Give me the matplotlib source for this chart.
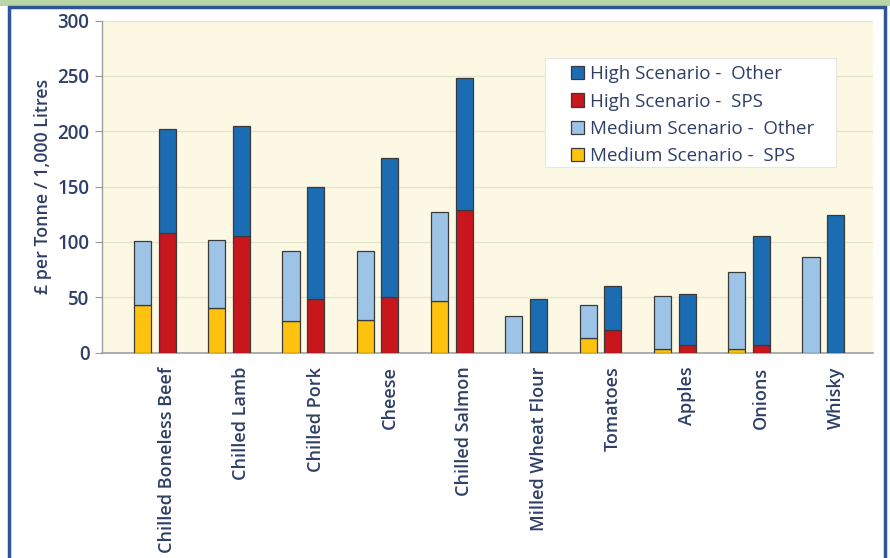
import matplotlib
matplotlib.use("Agg")
import matplotlib.pyplot as plt
from matplotlib.patches import Rectangle, Patch
import numpy as np

categories = ["Chilled Boneless Beef", "Chilled Lamb", "Chilled Pork", "Cheese",
              "Chilled Salmon", "Milled Wheat Flour", "Tomatoes", "Apples",
              "Onions", "Whisky"]

# Stacked components (£ per tonne / 1,000 litres)
medium_sps   = [43.5, 40.5, 29.0, 29.5, 47.0, 0.0, 13.5, 3.5, 3.5, 0.0]
medium_other = [57.5, 61.5, 63.0, 62.0, 80.5, 33.5, 30.0, 47.5, 69.0, 86.5]
high_sps     = [108.0, 105.0, 48.5, 50.0, 129.0, 1.0, 20.5, 6.5, 6.5, 0.0]
high_other   = [94.0, 100.0, 101.5, 126.0, 119.5, 47.5, 40.0, 46.5, 99.0, 124.5]

yticks = [0, 50, 100, 150, 200, 250, 300]
ylabel = "£ per Tonne / 1,000 Litres"
legend_labels = ["High Scenario -  Other", "High Scenario -  SPS",
                 "Medium Scenario -  Other", "Medium Scenario -  SPS"]

c_high_other = "#1b6cb3"
c_high_sps = "#c8161d"
c_med_other = "#9dc3e6"
c_med_sps = "#ffc20e"
edge = "#3a3a3a"
text_col = "#2f3f66"

plt.rcParams["font.family"] = ["Open Sans", "DejaVu Sans"]

fig = plt.figure(figsize=(8.9, 5.58), dpi=100)
fig.patch.set_facecolor("white")

# frame: green band on top, blue border around the panel
fig.patches.append(Rectangle((0, 0.99), 1, 0.01, transform=fig.transFigure,
                             facecolor="#b9d7a6", edgecolor="none", zorder=-10))
fig.patches.append(Rectangle((0.010, -0.02), 0.984, 1.008, transform=fig.transFigure,
                             facecolor="white", edgecolor="#2f5597", linewidth=2.5, zorder=-9))

ax = fig.add_axes([0.1146, 0.368, 0.8664, 0.595])
ax.set_facecolor("#fcf8e3")

x = np.arange(len(categories))
w = 0.23
off = 0.166

ax.bar(x - off, medium_sps, w, color=c_med_sps, edgecolor=edge, linewidth=0.9, zorder=3)
ax.bar(x - off, medium_other, w, bottom=medium_sps, color=c_med_other, edgecolor=edge,
       linewidth=0.9, zorder=3)
ax.bar(x + off, high_sps, w, color=c_high_sps, edgecolor=edge, linewidth=0.9, zorder=3)
ax.bar(x + off, high_other, w, bottom=high_sps, color=c_high_other, edgecolor=edge,
       linewidth=0.9, zorder=3)

ax.set_ylim(0, 300)
ax.set_xlim(-0.71, 9.67)
ax.set_yticks(yticks)
ax.set_yticklabels([str(t) for t in yticks], fontsize=13.5, color=text_col, fontweight="semibold")
ax.yaxis.grid(True, color="#e3e6cf", linewidth=1.0, zorder=0)
ax.set_axisbelow(True)

ax.set_xticks(x + off)
ax.set_xticklabels(categories, rotation=90, fontsize=13, color=text_col,
                   fontweight="semibold", va="top")
ax.tick_params(axis="x", length=0, pad=10)
ax.tick_params(axis="y", length=5, color="#9a9a9a", pad=4)

for s in ["top", "right"]:
    ax.spines[s].set_visible(False)
ax.spines["left"].set_color("#a0a0a0")
ax.spines["bottom"].set_color("#a0a0a0")
ax.spines["left"].set_linewidth(1.0)
ax.spines["bottom"].set_linewidth(1.2)

ax.set_ylabel(ylabel, fontsize=12.8, color=text_col, fontweight="semibold", labelpad=4)

# legend box with an inset list of entries
ax.add_patch(Rectangle((0.5746, 0.5593), 0.3774, 0.3284, transform=ax.transAxes,
                       facecolor="white", edgecolor="#e6e6e6", linewidth=0.8, zorder=4))
handles = [Patch(facecolor=c, edgecolor=edge, linewidth=0.9)
           for c in [c_high_other, c_high_sps, c_med_other, c_med_sps]]
leg = ax.legend(handles, legend_labels, loc="upper left",
                bbox_to_anchor=(0.608, 0.866), borderaxespad=0, frameon=False,
                fontsize=13.5, handlelength=0.7, handleheight=0.7, handletextpad=0.3,
                labelspacing=0.5, borderpad=0, labelcolor=text_col)
leg.set_zorder(5)

fig.savefig("out.png", dpi=100)
